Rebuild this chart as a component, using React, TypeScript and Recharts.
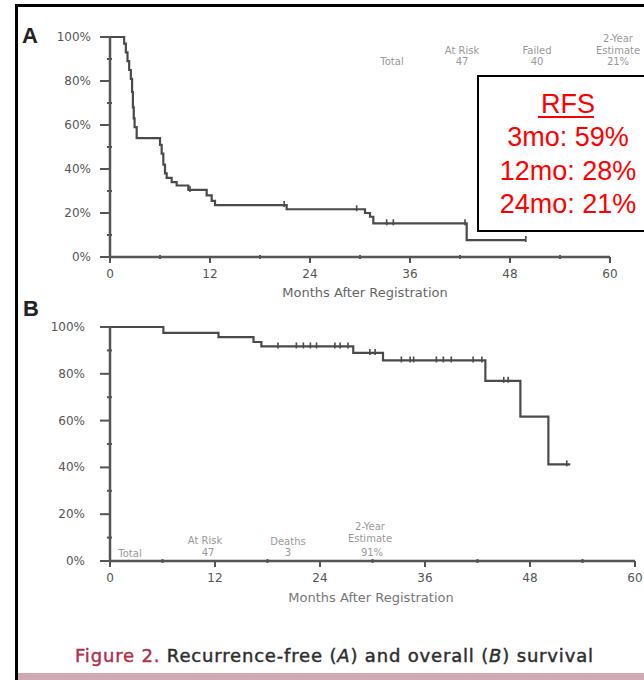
import React from "react";
import { ComposedChart, Line, Scatter, XAxis, YAxis } from "recharts";

const monthTicks = [0, 6, 12, 18, 24, 30, 36, 42, 48, 54, 60];
const pctTicks = [0, 10, 20, 30, 40, 50, 60, 70, 80, 90, 100];

// A: recurrence-free survival (Kaplan-Meier steps)
const rfsMonths = [0, 1.7, 1.9, 2.1, 2.3, 2.5, 2.65, 2.75, 2.85, 2.95, 3.2, 6.0, 6.2, 6.4, 6.6, 6.8, 7.4, 8.0, 9.4, 11.6, 12.2, 12.6, 21.2, 30.6, 31.2, 31.6, 42.8, 49.9];
const rfsSurvival = [100, 97, 93, 89, 85, 81, 75, 68, 63, 59, 54, 51, 47, 42, 38, 36, 34, 32.5, 30.5, 28, 25.5, 23.6, 21.7, 20, 18.3, 15.3, 7.7, 7.7];
const rfsCensorMonths = [9.6, 20.9, 29.6, 33.2, 34.0, 42.6, 49.9];
const rfsCensorSurvival = [30.5, 23.6, 21.7, 15.3, 15.3, 15.3, 7.7];

// B: overall survival
const osMonths = [0, 6.1, 12.4, 16.4, 17.3, 27.8, 31.2, 42.9, 46.9, 50.1, 52.6];
const osSurvival = [100, 97.5, 95.7, 93.6, 91.7, 88.9, 85.7, 77, 61.7, 41.3, 41.3];
const osCensorMonths = [19.2, 21.3, 22.1, 22.9, 23.6, 25.7, 26.3, 27.2, 29.7, 30.3, 33.3, 34.3, 34.7, 37.3, 38.1, 39.0, 41.5, 42.5, 45.0, 45.5, 52.2];
const osCensorSurvival = [91.7, 91.7, 91.7, 91.7, 91.7, 91.7, 91.7, 91.7, 88.9, 88.9, 85.7, 85.7, 85.7, 85.7, 85.7, 85.7, 85.7, 85.7, 77, 77, 41.3];

const rfsSummary = ["RFS", "3mo: 59%", "12mo: 28%", "24mo: 21%"];

const zip = (ms: number[], ss: number[]) => ms.map((m, i) => ({ m, s: ss[i] }));

const ink = "#4a4a4a";
const font = "DejaVu Sans";

function makeXTick(labelDy: number) {
  return (props: any) => {
    const { x, y, payload } = props;
    const major = payload.value % 12 === 0;
    return (
      <g>
        <line x1={x} x2={x} y1={major ? y : y - 2} y2={major ? y + 6 : y + 2} stroke="#555" strokeWidth={2} />
        {major && (
          <text x={x} y={y + labelDy} textAnchor="middle" fontSize={12} fontFamily={font} fill="#555">
            {payload.value}
          </text>
        )}
      </g>
    );
  };
}

function makeYTick(labelDx: number) {
  return (props: any) => {
    const { x, y, payload } = props;
    const major = payload.value % 20 === 0;
    return (
      <g>
        <line x1={major ? x - 10 : x - 3} x2={major ? x : x + 2} y1={y} y2={y} stroke="#555" strokeWidth={2} />
        {major && (
          <text x={x - labelDx} y={y} textAnchor="end" dominantBaseline="central" fontSize={12} fontFamily={font} fill="#555">
            {payload.value + "%"}
          </text>
        )}
      </g>
    );
  };
}

const censorMark = (props: any) => {
  const { cx, cy } = props;
  return <line x1={cx} x2={cx} y1={cy - 4} y2={cy + 2} stroke={ink} strokeWidth={1.6} />;
};

function SurvivalPanel({ curve, censor, width, height, margin, labelDx }: any) {
  return (
    <ComposedChart width={width} height={height} margin={margin}>
      <XAxis
        dataKey='m'
        type='number'
        domain={[0, 60]}
        ticks={monthTicks}
        interval={0}
        height={30}
        tickSize={0}
        tickMargin={0}
        tick={makeXTick(21)}
        axisLine={{ stroke: "#555", strokeWidth: 2.5 }}
      />
      <YAxis
        type='number'
        domain={[0, 100]}
        ticks={pctTicks}
        interval={0}
        width={60}
        tickSize={0}
        tickMargin={0}
        tick={makeYTick(labelDx)}
        axisLine={{ stroke: "#555", strokeWidth: 2.5 }}
      />
      <Line data={curve} dataKey='s' type='stepAfter' stroke={ink} strokeWidth={2.2} dot={false} isAnimationActive={false} />
      <Scatter data={censor} dataKey='s' shape={censorMark} isAnimationActive={false} />
    </ComposedChart>
  );
}

export default function App() {
  const small = { fontFamily: font, fontSize: 10, textAnchor: "middle" as const };
  return (
    <div style={{ position: "absolute", left: 0, top: 0, width: 644, height: 680, background: "#fff", overflow: "hidden" }}>
      <div style={{ position: "absolute", left: 0, top: 0 }}>
        <SurvivalPanel
          curve={zip(rfsMonths, rfsSurvival)}
          censor={zip(rfsCensorMonths, rfsCensorSurvival)}
          width={644}
          height={310}
          margin={{ top: 37, right: 34, bottom: 23, left: 50 }}
          labelDx={19}
        />
      </div>
      <div style={{ position: "absolute", left: 0, top: 310 }}>
        <SurvivalPanel
          curve={zip(osMonths, osSurvival)}
          censor={zip(osCensorMonths, osCensorSurvival)}
          width={644}
          height={320}
          margin={{ top: 17, right: 9, bottom: 39, left: 50 }}
          labelDx={25}
        />
      </div>
      <svg width={644} height={680} style={{ position: "absolute", left: 0, top: 0, pointerEvents: "none" }}>
        {/* frame */}
        <rect x={15} y={4} width={629} height={3} fill='#000' />
        <rect x={15} y={4} width={3} height={676} fill='#000' />
        <rect x={18} y={673} width={626} height={7} fill='#cfaab4' />

        <text x={22} y={43} fontFamily='Liberation Sans' fontWeight='bold' fontSize={22} fill='#222'>A</text>
        <text x={23} y={316} fontFamily='Liberation Sans' fontWeight='bold' fontSize={22} fill='#222'>B</text>

        {/* panel A table */}
        <g {...small} fill='#999'>
          <text x={392} y={65}>Total</text>
          <text x={462} y={54}>At Risk</text>
          <text x={462} y={65}>47</text>
          <text x={537} y={54}>Failed</text>
          <text x={537} y={65}>40</text>
          <text x={618} y={42}>2-Year</text>
          <text x={618} y={54}>Estimate</text>
          <text x={618} y={65}>21%</text>
        </g>

        {/* panel B table */}
        <g {...small} fill='#999'>
          <text x={130} y={557}>Total</text>
          <text x={205} y={544}>At Risk</text>
          <text x={208} y={556}>47</text>
          <text x={288} y={545}>Deaths</text>
          <text x={288} y={556}>3</text>
          <text x={370} y={530}>2-Year</text>
          <text x={370} y={542}>Estimate</text>
          <text x={372} y={556}>91%</text>
        </g>

        <text x={365} y={297} textAnchor='middle' fontFamily={font} fontSize={13} fill='#666'>Months After Registration</text>
        <text x={371} y={602} textAnchor='middle' fontFamily={font} fontSize={13} fill='#777'>Months After Registration</text>

        {/* RFS summary box */}
        <rect x={478} y={76} width={180} height={155} fill='#fff' stroke='#000' strokeWidth={2} />
        <g fontFamily='Liberation Sans' fontSize={27} fill='#ff0000' textAnchor='middle'>
          {rfsSummary.map((t, i) => (
            <text key={t} x={568} y={113 + i * 33.4}>{t}</text>
          ))}
        </g>
        <rect x={538} y={116} width={56} height={2} fill='#ff0000' />

        {/* caption */}
        <text x={75} y={662} fontFamily={font} fontSize={18} textLength={518} lengthAdjust='spacing' fill='#2e2e2e' stroke='#2e2e2e' strokeWidth={0.45}>
          <tspan fill='#b0304c' stroke='#b0304c'>Figure 2.</tspan> Recurrence-free (<tspan fontStyle='italic'>A</tspan>) and overall (<tspan fontStyle='italic'>B</tspan>) survival
        </text>
      </svg>
    </div>
  );
}
